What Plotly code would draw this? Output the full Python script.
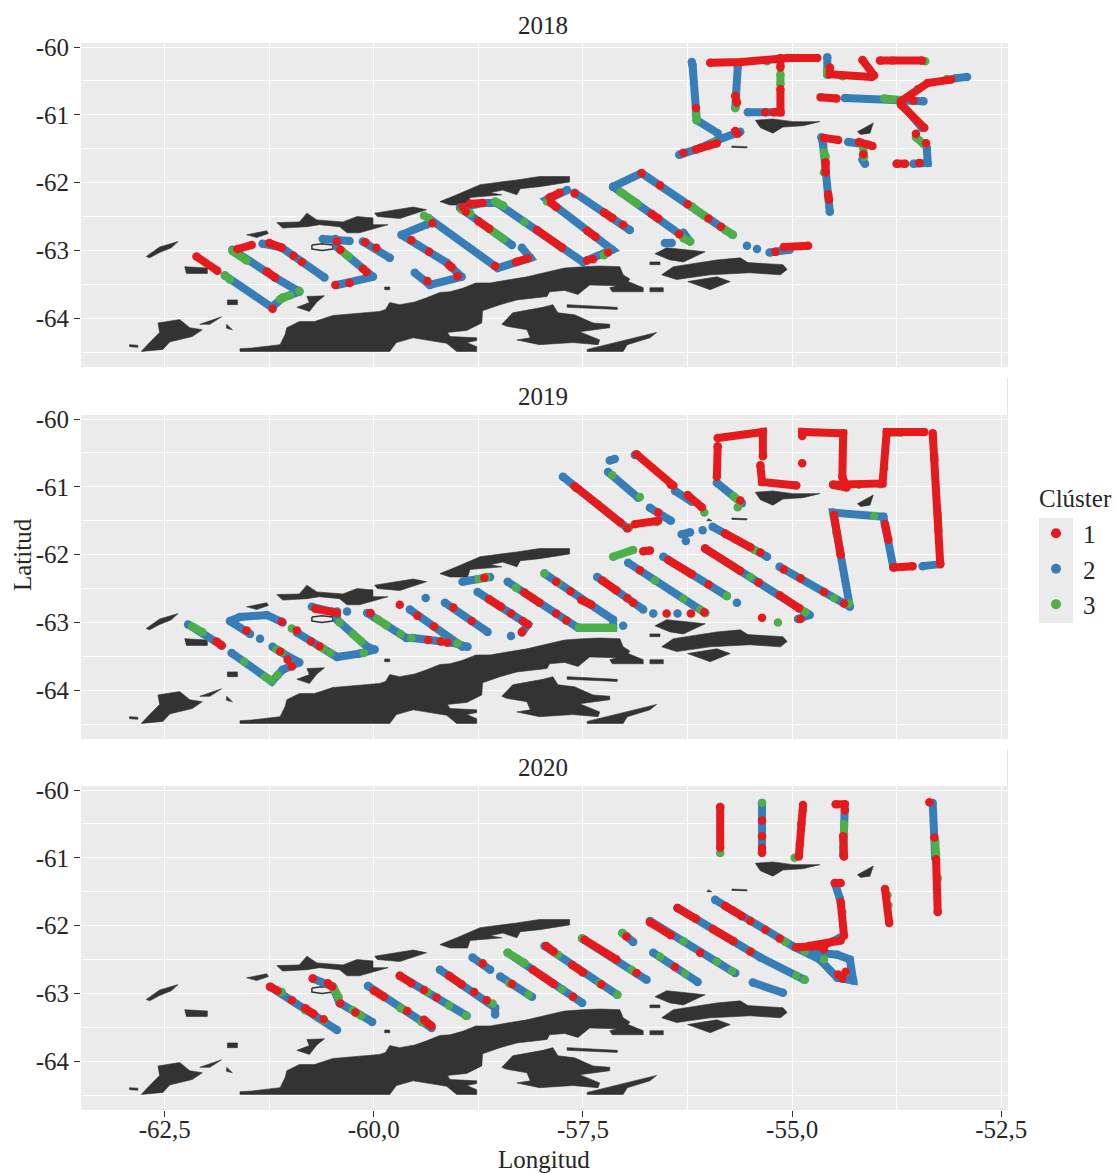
import plotly.graph_objects as go

RED, BLUE, GREEN = "#E41A1C", "#377EB8", "#4DAF4A"
clusters = ["1", "2", "3"]
years = ["2018", "2019", "2020"]
x_ticks = [-62.5, -60, -57.5, -55, -52.5]
x_labels = ["-62,5", "-60,0", "-57,5", "-55,0", "-52,5"]
y_ticks = [-60, -61, -62, -63, -64]
y_labels = ["-60", "-61", "-62", "-63", "-64"]
x_grid = [-62.5, -61.25, -60, -58.75, -57.5, -56.25, -55, -53.75, -52.5]
y_grid = [-60, -60.5, -61, -61.5, -62, -62.5, -63, -63.5, -64, -64.5]

land = [
 [(-61.60,-64.49),(-61.60,-64.45),(-61.46,-64.44),(-61.34,-64.42),(-61.12,-64.39),(-61.06,-64.24),(-61.04,-64.14),(-60.89,-64.05),(-60.71,-64.05),(-60.49,-63.96),(-60.23,-63.93),(-59.93,-63.90),(-59.86,-63.87),(-59.81,-63.77),(-59.69,-63.80),(-59.51,-63.76),(-59.37,-63.70),(-59.21,-63.62),(-59.09,-63.61),(-58.94,-63.56),(-58.78,-63.48),(-58.61,-63.48),(-58.37,-63.43),(-58.17,-63.39),(-57.90,-63.31),(-57.72,-63.26),(-57.50,-63.24),(-57.30,-63.23),(-57.06,-63.24),(-57.02,-63.36),(-56.94,-63.42),(-56.96,-63.46),(-56.78,-63.55),(-56.78,-63.61),(-57.15,-63.61),(-57.18,-63.55),(-57.09,-63.52),(-57.42,-63.51),(-57.56,-63.65),(-57.72,-63.59),(-57.90,-63.61),(-57.93,-63.68),(-58.29,-63.73),(-58.49,-63.80),(-58.70,-63.89),(-58.71,-64.07),(-58.89,-64.18),(-59.12,-64.21),(-59.09,-64.27),(-58.77,-64.29),(-58.77,-64.33),(-58.89,-64.36),(-58.77,-64.42),(-58.77,-64.49),(-59.01,-64.49),(-59.13,-64.37),(-59.53,-64.29),(-59.73,-64.36),(-59.81,-64.49)],
 [(-58.47,-64.09),(-58.34,-63.92),(-57.98,-63.84),(-57.86,-63.80),(-57.80,-63.92),(-57.60,-63.95),(-57.38,-64.07),(-57.18,-64.09),(-57.18,-64.14),(-57.54,-64.20),(-57.30,-64.32),(-57.32,-64.39),(-57.62,-64.36),(-58.02,-64.39),(-58.29,-64.32),(-58.13,-64.29),(-58.17,-64.17),(-58.41,-64.12)],
 [(-57.45,-64.46),(-56.97,-64.32),(-56.62,-64.21),(-56.70,-64.29),(-56.97,-64.39),(-57.02,-64.49),(-57.45,-64.49)],
 [(-57.69,-63.80),(-57.09,-63.84),(-57.09,-63.87),(-57.69,-63.84)],
 [(-56.70,-63.55),(-56.54,-63.55),(-56.54,-63.61),(-56.70,-63.61)],
 [(-59.01,-62.18),(-58.73,-62.03),(-58.29,-61.96),(-58.02,-61.91),(-57.66,-61.91),(-57.66,-61.99),(-58.02,-62.06),(-58.25,-62.09),(-58.29,-62.18),(-58.46,-62.11),(-58.61,-62.15),(-58.47,-62.18),(-58.85,-62.22),(-58.88,-62.33),(-59.09,-62.33),(-59.21,-62.28)],
 [(-59.99,-62.45),(-59.53,-62.36),(-59.37,-62.40),(-59.49,-62.45),(-59.69,-62.53),(-59.96,-62.50)],
 [(-61.16,-62.59),(-60.89,-62.58),(-60.80,-62.45),(-60.68,-62.55),(-60.37,-62.58),(-60.20,-62.50),(-60.01,-62.52),(-60.01,-62.62),(-59.83,-62.62),(-60.08,-62.70),(-60.17,-62.74),(-60.32,-62.74),(-60.41,-62.65),(-60.65,-62.62),(-60.80,-62.65),(-61.09,-62.67)],
 [(-61.52,-62.77),(-61.28,-62.71),(-61.26,-62.75),(-61.40,-62.81)],
 [(-62.72,-63.09),(-62.56,-62.95),(-62.34,-62.87),(-62.42,-62.96),(-62.56,-63.03),(-62.68,-63.11)],
 [(-62.26,-63.24),(-61.99,-63.26),(-61.99,-63.34),(-62.24,-63.34)],
 [(-61.75,-63.73),(-61.63,-63.73),(-61.63,-63.80),(-61.75,-63.80)],
 [(-62.58,-64.07),(-62.32,-64.02),(-62.20,-64.14),(-62.05,-64.17),(-62.17,-64.27),(-62.44,-64.35),(-62.52,-64.46),(-62.78,-64.49),(-62.68,-64.36),(-62.56,-64.21)],
 [(-62.08,-64.09),(-61.82,-63.98),(-61.96,-64.09)],
 [(-61.76,-64.09),(-61.69,-64.17),(-61.76,-64.15)],
 [(-62.92,-64.39),(-62.82,-64.40),(-62.82,-64.43),(-62.92,-64.42)],
 [(-60.80,-63.68),(-60.59,-63.67),(-60.68,-63.76),(-60.77,-63.90),(-60.92,-63.84),(-60.77,-63.77)],
 [(-59.87,-63.54),(-59.81,-63.54),(-59.81,-63.58),(-59.87,-63.58)],
 [(-56.64,-63.05),(-56.50,-62.96),(-56.04,-63.02),(-56.30,-63.17),(-56.46,-63.14)],
 [(-56.70,-63.17),(-56.58,-63.17),(-56.58,-63.21),(-56.70,-63.21)],
 [(-56.56,-63.36),(-56.42,-63.24),(-55.90,-63.14),(-55.62,-63.11),(-55.53,-63.18),(-55.11,-63.21),(-55.06,-63.28),(-55.14,-63.36),(-55.50,-63.33),(-55.98,-63.36),(-56.38,-63.43)],
 [(-56.25,-63.46),(-55.90,-63.39),(-55.74,-63.46),(-55.98,-63.58)],
 [(-55.44,-61.08),(-55.23,-61.06),(-54.99,-61.10),(-54.67,-61.10),(-54.87,-61.16),(-55.11,-61.18),(-55.23,-61.27),(-55.38,-61.19)],
 [(-54.22,-61.25),(-54.03,-61.12),(-54.07,-61.27),(-54.18,-61.29)],
 [(-55.72,-61.46),(-55.54,-61.47),(-55.54,-61.49),(-55.72,-61.48)],
 [(-56.00,-61.47),(-55.96,-61.50),(-56.02,-61.50)],
]
ring_lon = [-60.74,-60.62,-60.49,-60.49,-60.62,-60.74,-60.74]
ring_lat = [-62.92,-62.90,-62.92,-62.98,-63.00,-62.98,-62.92]

t2018_c2 = [
 [(-61.78,-63.37),(-61.22,-63.84),(-61.09,-63.70),(-60.91,-63.59),(-60.89,-63.61),(-61.18,-63.40),(-61.52,-63.14),(-61.69,-62.99)],
 [(-61.33,-62.90),(-61.10,-62.96),(-60.59,-63.40)],
 [(-60.44,-63.51),(-60.01,-63.39),(-60.44,-62.95),(-60.46,-62.83)],
 [(-60.61,-62.83),(-60.29,-62.86)],
 [(-60.13,-62.87),(-59.81,-63.11)],
 [(-59.51,-63.33),(-59.33,-63.51),(-58.95,-63.39),(-59.13,-63.18),(-59.67,-62.77),(-59.37,-62.62),(-59.30,-62.58)],
 [(-59.35,-62.52),(-58.52,-63.26),(-58.13,-63.11),(-58.23,-62.96)],
 [(-58.97,-62.37),(-58.35,-62.92)],
 [(-58.94,-62.37),(-58.70,-62.30),(-58.53,-62.30),(-57.50,-63.17),(-57.15,-62.99),(-57.93,-62.25),(-57.69,-62.11)],
 [(-57.60,-62.15),(-56.94,-62.70)],
 [(-57.14,-62.06),(-56.80,-61.86),(-55.71,-62.77)],
 [(-57.14,-62.06),(-56.22,-62.87),(-56.30,-62.74)],
 [(-56.52,-62.89),(-56.44,-62.89)],
 [(-55.54,-62.93)],[(-55.42,-62.98)],
 [(-55.27,-63.03),(-55.03,-62.99)],
 [(-56.35,-61.59),(-56.10,-61.49),(-55.89,-61.37),(-55.62,-61.25)],
 [(-55.89,-61.27),(-56.14,-61.08),(-56.19,-60.27),(-56.20,-60.22)],
 [(-55.65,-60.29),(-55.68,-60.90)],
 [(-55.14,-60.96),(-55.53,-60.96)],
 [(-54.58,-60.15),(-54.58,-60.41)],
 [(-54.37,-60.75),(-53.43,-60.80)],
 [(-53.71,-60.81),(-53.45,-61.19)],
 [(-53.39,-61.49),(-53.38,-61.71),(-53.55,-61.72)],
 [(-54.65,-61.33),(-54.63,-61.44),(-54.55,-62.43)],
 [(-54.33,-61.40),(-54.09,-61.44)],
 [(-54.13,-61.72),(-54.16,-61.66)],
 [(-53.05,-60.46),(-52.91,-60.44)],
]
t2018_c3 = [
 [(-61.78,-63.37),(-61.72,-63.43)],[(-61.12,-63.72),(-61.00,-63.66)],[(-61.52,-63.15),(-61.69,-63.01)],
 [(-60.38,-63.01),(-60.30,-63.09)],[(-60.89,-63.60)],[(-61.09,-63.70)],
 [(-59.35,-62.52)],[(-59.40,-62.49)],[(-58.55,-62.28),(-58.45,-62.34)],[(-58.95,-62.40),(-58.85,-62.45)],[(-58.62,-62.68),(-58.45,-62.83)],
 [(-57.93,-62.28)],[(-57.75,-62.96)],[(-57.20,-63.02),(-57.25,-63.07)],[(-57.05,-62.14),(-56.85,-62.31)],[(-56.30,-62.82),(-56.22,-62.87)],
 [(-56.20,-62.35),(-56.05,-62.49)],[(-55.80,-62.70),(-55.71,-62.77)],[(-58.20,-62.58)],
 [(-55.68,-60.90)],[(-55.14,-60.40),(-55.14,-60.55)],[(-55.00,-60.16)],[(-56.15,-61.00),(-56.14,-61.08)],[(-55.93,-61.40)],
 [(-54.58,-60.35),(-54.58,-60.41)],[(-54.40,-60.43)],[(-53.41,-60.21)],[(-53.80,-60.20)],[(-53.90,-60.76),(-53.70,-60.78)],
 [(-53.15,-60.47)],[(-53.50,-60.62)],[(-53.75,-61.72)],[(-53.52,-61.33),(-53.43,-61.43)],
 [(-54.62,-61.55),(-54.60,-61.62)],[(-54.62,-61.85)],[(-54.15,-61.48),(-54.14,-61.62)],[(-55.30,-60.21)],
]
t2018_c1 = [
 [(-62.12,-63.09),(-61.87,-63.30)],[(-61.21,-63.86)],[(-61.28,-63.31),(-61.18,-63.40)],[(-61.63,-62.98),(-61.46,-62.92)],
 [(-61.25,-62.89),(-61.10,-62.96)],[(-60.96,-63.08)],[(-60.86,-63.17)],[(-60.46,-63.51)],[(-60.29,-63.48)],[(-60.13,-63.27)],[(-60.09,-63.32)],
 [(-60.10,-62.88)],[(-59.97,-62.96)],[(-60.40,-62.99)],[(-60.44,-62.87)],
 [(-59.36,-63.45)],[(-59.10,-63.22)],[(-59.34,-63.02)],[(-59.00,-63.38)],[(-59.07,-63.25)],[(-59.55,-62.85)],[(-59.30,-62.60)],
 [(-58.94,-62.36)],[(-58.85,-62.31),(-58.70,-62.30)],[(-58.75,-62.57),(-58.62,-62.68)],[(-58.90,-62.43)],
 [(-58.55,-63.23)],[(-58.30,-63.17),(-58.16,-63.12)],
 [(-57.90,-62.22),(-57.78,-62.15)],[(-57.88,-62.30),(-57.82,-62.36)],[(-57.60,-62.16)],
 [(-58.05,-62.70),(-57.75,-62.96)],[(-57.45,-63.15)],[(-57.45,-62.71),(-57.35,-62.80)],[(-57.25,-62.44),(-57.15,-62.52)],[(-57.02,-62.62)],
 [(-57.38,-63.13)],[(-57.20,-63.03)],[(-56.80,-61.86)],[(-56.58,-62.04)],[(-56.25,-62.32)],[(-56.00,-62.53)],[(-55.85,-62.65)],
 [(-56.68,-62.46),(-56.60,-62.53)],[(-56.35,-62.76)],
 [(-55.10,-62.95),(-54.81,-62.93)],[(-55.20,-63.02)],
 [(-56.10,-61.49),(-55.90,-61.42)],[(-55.65,-61.28)],[(-56.15,-60.90)],[(-55.98,-60.23),(-55.60,-60.22),(-55.05,-60.16),(-54.70,-60.16)],
 [(-55.68,-60.72),(-55.66,-60.82)],[(-55.14,-60.16),(-55.14,-60.30)],[(-55.14,-60.62),(-55.14,-60.96),(-55.22,-60.96)],[(-55.32,-60.96)],
 [(-54.55,-60.30),(-54.55,-60.40),(-54.05,-60.44)],[(-54.16,-60.19),(-54.02,-60.42)],[(-53.95,-60.20),(-53.45,-60.20)],
 [(-54.66,-60.74),(-54.47,-60.76)],[(-53.70,-60.80),(-53.38,-60.53),(-53.10,-60.48)],[(-53.55,-60.79)],
 [(-53.70,-60.85),(-53.42,-61.19)],[(-53.52,-61.28)],[(-53.40,-61.42)],[(-53.75,-61.72),(-53.65,-61.72)],[(-53.48,-61.71)],
 [(-54.62,-61.34),(-54.45,-61.37)],[(-54.60,-61.70),(-54.60,-61.85)],[(-54.57,-62.17),(-54.56,-62.25)],
 [(-54.20,-61.40),(-54.04,-61.46)],[(-54.15,-61.58)],[(-56.30,-61.56)],[(-56.15,-61.51)],[(-55.68,-61.24)],
]

t2019_c2 = [
 [(-62.22,-63.03),(-61.82,-63.34)],
 [(-61.70,-63.45),(-61.22,-63.87),(-61.09,-63.70),(-60.89,-63.59),(-61.00,-63.52),(-61.21,-63.36)],
 [(-61.36,-63.24)],
 [(-61.48,-63.17),(-61.72,-62.98),(-61.60,-62.92),(-61.28,-62.89),(-61.09,-63.00)],
 [(-60.92,-63.15),(-60.44,-63.51),(-60.17,-63.46),(-59.99,-63.40),(-60.08,-63.36),(-60.44,-62.96),(-60.44,-62.84)],
 [(-60.74,-62.77),(-60.50,-62.84)],
 [(-60.32,-62.84)],
 [(-60.08,-62.86),(-59.61,-63.23),(-59.53,-63.23),(-59.06,-63.30),(-58.88,-63.36)],
 [(-59.57,-62.81),(-58.94,-63.36)],
 [(-59.38,-62.64)],
 [(-59.15,-62.71),(-58.64,-63.14)],
 [(-58.36,-63.20)],
 [(-58.76,-62.55),(-58.16,-63.03),(-58.23,-63.15)],
 [(-58.94,-62.40),(-58.61,-62.33)],
 [(-58.40,-62.40),(-57.56,-63.08),(-57.14,-63.08),(-57.14,-62.96),(-57.96,-62.28)],
 [(-57.02,-63.05)],
 [(-57.33,-62.33),(-56.78,-62.81)],
 [(-56.66,-62.87)],[(-56.37,-62.87)],
 [(-56.96,-62.12),(-56.04,-62.86)],
 [(-56.54,-62.03),(-55.78,-62.61)],[(-55.66,-62.71)],
 [(-56.04,-61.91),(-54.79,-62.89),(-54.93,-62.95)],
 [(-55.95,-61.59),(-55.30,-62.03)],
 [(-56.07,-61.64)],[(-56.32,-61.70),(-56.22,-61.67)],[(-56.27,-61.80)],
 [(-55.15,-62.18),(-54.31,-62.77),(-54.51,-61.38),(-53.91,-61.44),(-53.79,-62.19)],
 [(-53.44,-62.17),(-53.23,-62.14)],
 [(-55.90,-60.94),(-55.60,-61.24)],
 [(-57.74,-60.85),(-56.97,-61.61)],
 [(-56.70,-61.31),(-56.45,-61.50)],
 [(-57.12,-60.59),(-57.18,-60.61)],
 [(-57.20,-60.78),(-56.84,-61.16)],
 [(-56.88,-60.53)],[(-56.40,-61.06),(-56.20,-61.22)],
]
t2019_c3 = [
 [(-62.17,-63.06),(-62.05,-63.14)],[(-61.30,-63.80),(-61.22,-63.86)],[(-61.15,-63.78)],[(-61.16,-63.40),(-61.10,-63.44)],[(-61.55,-63.58)],
 [(-60.98,-63.09)],[(-60.60,-63.39)],[(-60.52,-63.45)],[(-60.12,-63.45)],[(-60.25,-63.17),(-60.15,-63.28)],[(-60.41,-63.00)],
 [(-59.96,-62.95),(-59.85,-63.04)],[(-59.68,-63.17)],[(-59.55,-63.23)],[(-59.20,-63.27)],[(-59.00,-63.31)],[(-58.75,-62.36)],[(-58.65,-62.33)],
 [(-57.96,-62.28)],[(-57.80,-62.41)],[(-57.42,-62.72)],[(-58.30,-62.49)],[(-58.10,-62.64)],[(-57.55,-63.08),(-57.14,-63.08)],
 [(-57.14,-62.03),(-56.90,-61.93)],[(-56.64,-62.38)],[(-56.30,-62.65)],[(-56.10,-62.81),(-56.04,-62.86)],[(-55.78,-62.61)],
 [(-56.23,-62.27)],[(-55.50,-62.33)],[(-54.90,-62.80)],[(-55.17,-63.00)],[(-55.67,-61.78)],[(-55.45,-61.93)],
 [(-54.84,-62.85)],[(-54.32,-62.72)],[(-54.50,-62.64)],[(-54.47,-61.68)],[(-54.43,-61.95)],
 [(-53.84,-60.20),(-53.70,-60.20)],[(-53.95,-60.96)],[(-53.90,-60.72)],[(-53.30,-60.55)],[(-53.26,-61.40),(-53.25,-61.65)],[(-54.02,-61.43)],
 [(-55.70,-61.14),(-55.62,-61.22)],[(-55.65,-61.30)],[(-54.47,-60.98)],[(-54.20,-60.97)],
 [(-56.82,-61.15)],[(-57.15,-60.83)],[(-56.95,-61.60)],[(-56.62,-61.52)],[(-56.05,-61.38)],[(-57.58,-61.02)],[(-57.32,-61.26)],
]
t2019_c1 = [
 [(-61.88,-63.28),(-61.82,-63.34)],[(-61.10,-62.99)],[(-61.52,-63.12)],[(-60.98,-63.65)],[(-61.03,-63.55)],[(-61.12,-63.43)],
 [(-60.92,-63.12)],[(-60.75,-63.28)],[(-60.65,-63.35)],[(-60.70,-62.80),(-60.44,-62.86)],
 [(-60.04,-62.86)],[(-59.69,-62.74)],[(-59.48,-62.90)],[(-59.28,-63.06)],[(-59.20,-63.28)],[(-59.35,-63.26)],[(-59.12,-63.30)],
 [(-58.83,-62.98)],[(-59.05,-62.78)],[(-58.68,-62.34)],[(-58.62,-62.66),(-58.48,-62.77)],[(-58.36,-62.87)],[(-58.22,-62.98),(-58.16,-63.03)],[(-58.23,-63.14)],
 [(-58.20,-62.56),(-58.02,-62.71)],[(-57.82,-62.87)],[(-57.70,-62.97)],[(-57.82,-62.40)],[(-57.65,-62.54)],[(-57.52,-62.67),(-57.40,-62.74)],
 [(-57.27,-62.38),(-57.10,-62.53)],[(-56.97,-62.64)],[(-56.90,-62.71)],[(-56.50,-62.87)],[(-56.21,-62.87)],
 [(-56.78,-61.95),(-56.70,-61.94)],[(-56.82,-62.23)],[(-56.05,-62.85)],
 [(-56.48,-62.08),(-56.20,-62.29)],[(-56.00,-62.44)],[(-56.04,-61.91),(-55.62,-62.24)],[(-55.40,-62.41)],[(-55.15,-62.60),(-54.92,-62.79)],
 [(-54.90,-62.95)],[(-55.36,-62.93)],[(-55.80,-61.69),(-55.50,-61.89)],[(-55.38,-61.97)],
 [(-55.10,-62.22)],[(-54.90,-62.35)],[(-54.62,-62.55)],[(-54.38,-62.72)],
 [(-54.50,-61.42),(-54.42,-62.00)],[(-53.89,-61.55),(-53.85,-61.78)],[(-53.79,-62.19),(-53.56,-62.17)],
 [(-53.23,-62.14),(-53.30,-60.60),(-53.32,-60.21)],
 [(-53.42,-60.19),(-53.87,-60.19),(-53.92,-60.95),(-54.51,-60.97)],
 [(-54.51,-60.97),(-54.35,-61.01),(-54.40,-60.85),(-54.39,-60.21),(-54.88,-60.19),(-54.88,-60.25)],[(-54.88,-60.65)],
 [(-55.89,-60.28),(-55.35,-60.19),(-55.35,-60.55)],[(-55.38,-60.68),(-55.36,-60.93),(-54.95,-60.98)],
 [(-55.89,-60.40),(-55.90,-60.85)],[(-55.62,-61.20)],
 [(-57.60,-60.99),(-57.05,-61.53)],[(-56.97,-61.61)],[(-56.88,-61.55),(-56.60,-61.50)],[(-56.60,-61.38)],[(-56.45,-60.97)],
 [(-56.86,-60.52),(-56.42,-60.98)],[(-56.25,-61.12),(-56.08,-61.30)],
]

t2020_c2 = [
 [(-61.24,-62.90),(-60.44,-63.54)],
 [(-60.73,-62.78),(-60.49,-62.90),(-60.41,-63.14),(-60.02,-63.42)],
 [(-60.07,-62.89),(-59.31,-63.51)],
 [(-59.69,-62.74),(-58.89,-63.33)],
 [(-59.21,-62.65),(-58.55,-63.21),(-58.55,-63.31)],
 [(-58.82,-62.47),(-58.61,-62.65)],
 [(-58.49,-62.75),(-58.11,-63.05)],
 [(-58.40,-62.40),(-57.51,-63.14)],
 [(-57.96,-62.30),(-57.09,-63.02)],
 [(-57.51,-62.19),(-56.74,-62.80)],
 [(-57.03,-62.11),(-56.90,-62.24)],
 [(-56.70,-61.93),(-55.68,-62.70)],
 [(-56.37,-61.74),(-55.38,-62.47),(-54.85,-62.80)],
 [(-55.92,-61.62),(-54.98,-62.31),(-54.67,-62.50),(-54.46,-62.77),(-54.27,-62.81),(-54.31,-62.50),(-54.46,-62.43),(-54.79,-62.39),(-54.43,-62.18)],
 [(-56.66,-62.40),(-56.13,-62.83)],
 [(-55.47,-62.84),(-55.11,-62.99)],
 [(-55.36,-60.19),(-55.36,-60.93)],
 [(-54.37,-60.21),(-54.39,-60.96)],
 [(-53.32,-60.19),(-53.29,-61.00)],
 [(-54.49,-61.37),(-54.43,-61.60)],
]
t2020_c3 = [
 [(-61.10,-62.98)],[(-60.82,-63.25)],[(-60.60,-63.40)],[(-60.48,-62.92),(-60.42,-63.06)],[(-60.25,-63.25),(-60.15,-63.33)],
 [(-59.92,-63.02)],[(-59.68,-63.22)],[(-59.43,-63.42)],[(-59.36,-62.98)],[(-59.10,-63.18)],[(-58.90,-63.33)],[(-58.96,-62.86)],[(-58.58,-63.15)],
 [(-58.70,-62.55)],[(-58.40,-62.40),(-58.20,-62.55)],[(-58.38,-62.85)],[(-58.15,-63.02)],[(-57.75,-62.94)],[(-57.62,-63.05)],[(-57.80,-62.43)],[(-57.55,-62.64)],
 [(-57.30,-62.85)],[(-57.09,-63.02)],[(-57.51,-62.19)],[(-56.92,-62.65)],[(-57.03,-62.11)],
 [(-56.30,-62.23)],[(-55.90,-62.53)],[(-55.72,-62.67)],[(-56.58,-62.46)],[(-56.28,-62.71)],[(-55.50,-62.38)],[(-54.85,-62.80)],[(-54.95,-62.74)],
 [(-55.50,-61.93)],[(-55.70,-61.78)],[(-55.08,-62.24)],
 [(-55.86,-60.25)],[(-55.86,-60.93)],[(-55.36,-60.19)],[(-54.87,-60.30)],[(-54.97,-61.00)],[(-54.91,-60.80)],
 [(-54.38,-60.50),(-54.38,-60.65)],[(-54.39,-60.85)],[(-53.29,-60.75),(-53.28,-60.95)],[(-53.26,-61.30)],[(-54.40,-61.80)],[(-53.85,-61.70)],[(-53.86,-61.55)],
 [(-54.85,-62.38)],[(-54.62,-62.50)],
]
t2020_c1 = [
 [(-61.24,-62.90),(-61.15,-62.96)],[(-60.98,-63.10)],[(-60.82,-63.22),(-60.72,-63.30)],[(-60.60,-63.38)],
 [(-60.73,-62.78)],[(-60.55,-62.85),(-60.50,-62.90)],[(-60.40,-63.15)],[(-60.22,-63.28)],
 [(-60.00,-62.96),(-59.88,-63.05)],[(-59.60,-63.26)],[(-59.40,-63.39),(-59.31,-63.48)],
 [(-59.69,-62.74),(-59.55,-62.85)],[(-59.40,-62.95)],[(-59.25,-63.06)],
 [(-59.10,-62.74),(-58.95,-62.87)],[(-58.80,-62.98)],[(-58.65,-63.10)],[(-58.70,-62.56)],
 [(-58.35,-62.86)],[(-58.10,-62.65),(-57.85,-62.86)],[(-57.62,-63.05)],
 [(-57.94,-62.30),(-57.85,-62.38)],[(-57.63,-62.58),(-57.50,-62.69)],[(-57.28,-62.87)],
 [(-57.48,-62.21),(-57.10,-62.50)],[(-56.86,-62.70)],[(-56.98,-62.16)],
 [(-56.70,-61.95),(-56.45,-62.14)],[(-56.10,-62.40)],[(-56.40,-62.61)],
 [(-56.37,-61.74),(-56.15,-61.90)],[(-55.95,-62.05),(-55.70,-62.23)],[(-55.50,-62.38)],[(-55.80,-61.71),(-55.60,-61.86)],[(-55.50,-61.93)],[(-55.32,-62.06)],[(-55.15,-62.19)],
 [(-54.95,-62.32),(-54.65,-62.30)],[(-54.62,-62.35)],[(-54.45,-62.72)],[(-54.36,-62.68)],[(-54.40,-62.78)],
 [(-55.86,-60.25),(-55.86,-60.85)],[(-55.36,-60.45)],[(-55.36,-60.68)],[(-55.36,-60.85),(-55.36,-60.92)],
 [(-54.87,-60.22),(-54.89,-60.50),(-54.92,-60.98)],[(-54.48,-60.21),(-54.37,-60.21)],[(-54.39,-60.68),(-54.38,-60.98)],[(-54.37,-60.30)],
 [(-54.49,-61.37),(-54.42,-61.37)],[(-54.42,-61.65),(-54.38,-62.15)],[(-54.42,-62.22),(-54.80,-62.30)],
 [(-53.89,-61.46),(-53.84,-61.96)],[(-53.36,-60.18)],[(-53.28,-61.02),(-53.26,-61.80)],[(-53.30,-60.70)],
]

data_by_year = {
 "2018": (t2018_c2, t2018_c3, t2018_c1),
 "2019": (t2019_c2, t2019_c3, t2019_c1),
 "2020": (t2020_c2, t2020_c3, t2020_c1),
}

W, H = 1115, 1173
panels = [(43, 367), (415, 739), (786, 1110)]
strips = [(8, 43), (378, 415), (749, 786)]
FONT = "Liberation Serif"
SZ = 25
INK = "#262626"

def flatten(polys):
    xs, ys = [], []
    for p in polys:
        for a, b in p:
            xs.append(a); ys.append(b)
        xs.append(None); ys.append(None)
    return xs, ys

fig = go.Figure()
for i, yr in enumerate(years):
    ax = "" if i == 0 else str(i + 1)
    xref, yref = "x" + ax, "y" + ax
    lx, ly = [], []
    for poly in land:
        for a, b in poly + poly[:1]:
            lx.append(a); ly.append(b)
        lx.append(None); ly.append(None)
    fig.add_trace(go.Scatter(x=lx, y=ly, xaxis=xref, yaxis=yref, mode="lines", fill="toself",
                             fillcolor="#333333", line=dict(color="#333333", width=0.6),
                             hoverinfo="skip", showlegend=False))
    fig.add_trace(go.Scatter(x=ring_lon, y=ring_lat, xaxis=xref, yaxis=yref, mode="lines",
                             line=dict(color="#333333", width=1.5), hoverinfo="skip", showlegend=False))
    for polys, col in zip(data_by_year[yr], (BLUE, GREEN, RED)):
        xs, ys = flatten(polys)
        fig.add_trace(go.Scatter(x=xs, y=ys, xaxis=xref, yaxis=yref, mode="lines+markers",
                                 line=dict(color=col, width=8),
                                 marker=dict(color=col, size=8.5, line=dict(width=0)),
                                 hoverinfo="skip", showlegend=False, connectgaps=False))
    top, bot = panels[i]
    grid = dict(showgrid=True, gridcolor="white", gridwidth=1.4, zeroline=False, showline=False)
    xa = dict(domain=[81 / W, 1008 / W], range=[-63.5, -52.42], anchor=yref, tickmode="array",
              tickvals=x_ticks, ticktext=x_labels if i == 2 else [""] * 5,
              ticks="outside" if i == 2 else "", ticklen=6, tickcolor="#333333", tickwidth=1,
              tickfont=dict(family=FONT, size=SZ, color=INK), ticklabelstandoff=-9,
              minor=dict(tickmode="array", tickvals=x_grid, showgrid=True, gridcolor="white", gridwidth=1.4, ticks=""),
              **grid)
    ya = dict(domain=[1 - bot / H, 1 - top / H], range=[-64.72, -59.94], anchor=xref, tickmode="array",
              tickvals=y_ticks, ticktext=y_labels, ticks="outside", ticklen=6, tickcolor="#333333", tickwidth=1,
              tickfont=dict(family=FONT, size=SZ, color=INK),
              minor=dict(tickmode="array", tickvals=y_grid, showgrid=True, gridcolor="white", gridwidth=1.4, ticks=""),
              **grid)
    fig.update_layout({"xaxis" + ax: xa, "yaxis" + ax: ya})
    s0, s1 = strips[i]
    fig.add_annotation(xref="paper", yref="paper", x=543 / W, y=1 - (s0 + s1) / 2 / H, text=yr,
                       showarrow=False, font=dict(family=FONT, size=SZ, color=INK), xanchor="center", yanchor="middle")
    if i > 0:
        fig.add_shape(type="line", xref="paper", yref="paper", x0=1007.5 / W, x1=1007.5 / W, y0=1 - s0 / H, y1=1 - s1 / H,
                      line=dict(color="#E5E5E5", width=1))

for name, col in zip(clusters, (RED, BLUE, GREEN)):
    fig.add_trace(go.Scatter(x=[None], y=[None], mode="markers", name=name,
                             marker=dict(color=col, size=10, line=dict(width=0)), hoverinfo="skip"))

fig.add_shape(type="rect", xref="paper", yref="paper", x0=1039 / W, x1=1073 / W, y0=1 - 518 / H, y1=1 - 623 / H,
              fillcolor="#EBEBEB", line=dict(width=0), layer="below")
fig.add_annotation(xref="paper", yref="paper", x=1037 / W, y=1 - 498 / H, text="Clúster", showarrow=False, xanchor="left", yanchor="middle",
                   font=dict(family=FONT, size=SZ, color=INK))
fig.add_annotation(xref="paper", yref="paper", x=543.5 / W, y=1 - 1159 / H, text="Longitud", showarrow=False,
                   font=dict(family=FONT, size=SZ, color=INK), xanchor="center", yanchor="middle")
fig.add_annotation(xref="paper", yref="paper", x=22 / W, y=1 - 555 / H, text="Latitud", textangle=-90, showarrow=False,
                   font=dict(family=FONT, size=SZ, color=INK), xanchor="center", yanchor="middle")

fig.update_layout(
    width=W, height=H, margin=dict(l=0, r=0, t=0, b=0, autoexpand=False), paper_bgcolor="white", plot_bgcolor="#EBEBEB",
    font=dict(family=FONT, size=SZ, color=INK),
    legend=dict(x=1029 / W, y=1 - 510.5 / H, xanchor="left", yanchor="top", bgcolor="rgba(0,0,0,0)", borderwidth=0, itemwidth=44,
                font=dict(family=FONT, size=SZ, color=INK), tracegroupgap=0),
)
fig.write_html("out.html", config={"displayModeBar": False},
               post_script="document.body.style.margin='0';document.body.style.overflow='hidden';window.dispatchEvent(new Event('resize'));")
